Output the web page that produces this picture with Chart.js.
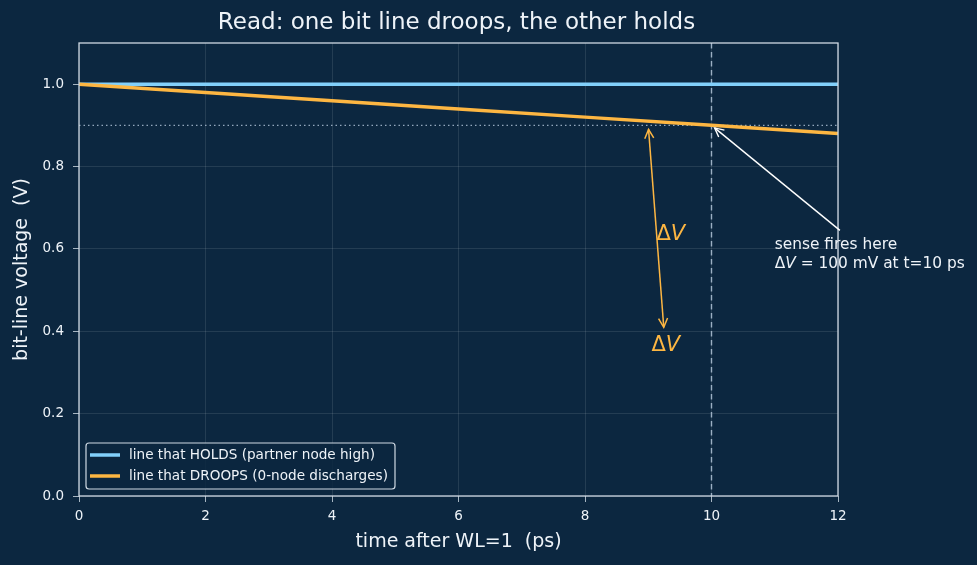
<!DOCTYPE html>
<html><head><meta charset="utf-8">
<script src="https://cdn.jsdelivr.net/npm/chart.js@4.4.0/dist/chart.umd.min.js"></script>
<style>html,body{margin:0;padding:0;background:#0c2740;}#wrap{width:977px;height:565px;position:relative}</style>
</head><body><div id="wrap"><canvas id="c" width="977" height="565"></canvas></div>
<script>
const chartTitle = 'Read: one bit line droops, the other holds';
const xTitle = 'time after WL=1  (ps)';
const yTitle = 'bit-line voltage  (V)';
const timePs = [0, 2, 4, 6, 8, 10, 12];
const holdsV = [1.00, 1.00, 1.00, 1.00, 1.00, 1.00, 1.00];
const droopsV = [1.00, 0.98, 0.96, 0.94, 0.92, 0.90, 0.88];
const seriesLabels = ['line that HOLDS (partner node high)', 'line that DROOPS (0-node discharges)'];
const xTicks = [0, 2, 4, 6, 8, 10, 12];
const yTicks = [0, 0.2, 0.4, 0.6, 0.8, 1.0];
const senseTime = 10;
const senseLevel = 0.9;
const dvArrowFrom = [9, 0.9];
const dvArrowTo = [9.25, 0.4];
const dvLabelA = [9.13, 0.635];
const dvLabelB = [9.05, 0.365];
const noteLines = ['sense fires here', '= 100 mV at t=10 ps'];
const noteAnchor = [11, 0.6];
const noteArrowFrom = [12.03, 0.645];
const noteArrowTo = [10, 0.9];

const BG = '#0c2740';
const TXT = '#eef3f8';
const BLUE = '#82d0fb';
const ORANGE = '#fdb642';
const FONT = "'DejaVu Sans', sans-serif";

function chevron(ctx, x, y, ang, len, half) {
  const c = Math.cos(ang), s = Math.sin(ang);
  ctx.beginPath();
  ctx.moveTo(x - len * c + half * s, y - len * s - half * c);
  ctx.lineTo(x, y);
  ctx.lineTo(x - len * c - half * s, y - len * s + half * c);
  ctx.stroke();
}
function drawDV(ctx, x, y, size, color) {
  ctx.fillStyle = color;
  ctx.font = size + 'px ' + FONT;
  ctx.fillText('Δ', x, y);
  const w = ctx.measureText('Δ').width;
  ctx.font = 'italic ' + size + 'px ' + FONT;
  ctx.fillText('V', x + w, y);
  return w + ctx.measureText('V').width;
}

const deco = {
  id: 'deco',
  beforeDraw(chart) {
    const ctx = chart.ctx;
    ctx.save();
    ctx.fillStyle = BG;
    ctx.fillRect(0, 0, chart.width, chart.height);
    ctx.restore();
  },
  beforeDatasetsDraw(chart) {
    const ctx = chart.ctx, a = chart.chartArea, x = chart.scales.x, y = chart.scales.y;
    ctx.save();
    ctx.strokeStyle = '#93a8bd';
    ctx.lineWidth = 1.2;
    ctx.setLineDash([1.5, 3]);
    const yy = y.getPixelForValue(senseLevel);
    ctx.beginPath(); ctx.moveTo(a.left, yy); ctx.lineTo(a.right, yy); ctx.stroke();
    ctx.strokeStyle = '#9cb0c4';
    ctx.lineWidth = 1.4;
    ctx.setLineDash([5.5, 3.5]);
    const xx = x.getPixelForValue(senseTime);
    ctx.beginPath(); ctx.moveTo(xx, a.top); ctx.lineTo(xx, a.bottom); ctx.stroke();
    ctx.restore();
  },
  afterDatasetsDraw(chart) {
    const ctx = chart.ctx, a = chart.chartArea, x = chart.scales.x, y = chart.scales.y;
    ctx.save();
    ctx.strokeStyle = '#cfd9e3';
    ctx.lineWidth = 1.3;
    ctx.strokeRect(a.left, a.top, a.right - a.left, a.bottom - a.top);
    ctx.fillStyle = TXT;
    ctx.font = '23px ' + FONT;
    ctx.textAlign = 'center';
    ctx.textBaseline = 'middle';
    ctx.fillText(chartTitle, (a.left + a.right) / 2 - 2, 23);
    // delta-V double arrow
    ctx.strokeStyle = ORANGE;
    ctx.lineWidth = 1.5;
    let x1 = x.getPixelForValue(dvArrowFrom[0]), y1 = y.getPixelForValue(dvArrowFrom[1]);
    let x2 = x.getPixelForValue(dvArrowTo[0]), y2 = y.getPixelForValue(dvArrowTo[1]);
    let ang = Math.atan2(y2 - y1, x2 - x1);
    const sh = 4;
    x1 += sh * Math.cos(ang); y1 += sh * Math.sin(ang);
    x2 -= sh * Math.cos(ang); y2 -= sh * Math.sin(ang);
    ctx.beginPath(); ctx.moveTo(x1, y1); ctx.lineTo(x2, y2); ctx.stroke();
    chevron(ctx, x2, y2, ang, 9, 4.5);
    chevron(ctx, x1, y1, ang + Math.PI, 9, 4.5);
    ctx.textAlign = 'left';
    ctx.textBaseline = 'middle';
    drawDV(ctx, x.getPixelForValue(dvLabelA[0]), y.getPixelForValue(dvLabelA[1]), 21, ORANGE);
    drawDV(ctx, x.getPixelForValue(dvLabelB[0]), y.getPixelForValue(dvLabelB[1]), 21, ORANGE);
    // note arrow
    ctx.strokeStyle = '#ffffff';
    ctx.lineWidth = 1.4;
    x1 = x.getPixelForValue(noteArrowFrom[0]); y1 = y.getPixelForValue(noteArrowFrom[1]);
    x2 = x.getPixelForValue(noteArrowTo[0]); y2 = y.getPixelForValue(noteArrowTo[1]);
    ang = Math.atan2(y2 - y1, x2 - x1);
    x2 -= 4 * Math.cos(ang); y2 -= 4 * Math.sin(ang);
    ctx.beginPath(); ctx.moveTo(x1, y1); ctx.lineTo(x2, y2); ctx.stroke();
    chevron(ctx, x2, y2, ang, 9, 4.5);
    // note text
    const nx = x.getPixelForValue(noteAnchor[0]), ny = y.getPixelForValue(noteAnchor[1]);
    ctx.fillStyle = TXT;
    ctx.font = '15.4px ' + FONT;
    ctx.textBaseline = 'middle';
    ctx.fillText(noteLines[0], nx, ny - 4);
    const w = drawDV(ctx, nx, ny + 15, 15.4, TXT);
    ctx.font = '15.4px ' + FONT;
    ctx.fillText(' ' + noteLines[1], nx + w, ny + 15);
    // legend
    const lx = a.left + 7, lw = 309, lh = 46, ly = a.bottom - 7 - lh;
    ctx.fillStyle = 'rgba(12,39,64,0.85)';
    ctx.strokeStyle = '#cfd9e3';
    ctx.lineWidth = 1.2;
    ctx.beginPath();
    ctx.roundRect(lx, ly, lw, lh, 3);
    ctx.fill(); ctx.stroke();
    const cols = [BLUE, ORANGE];
    ctx.font = '13.6px ' + FONT;
    ctx.textAlign = 'left';
    for (let i = 0; i < 2; i++) {
      const yy = ly + 12 + i * 21;
      ctx.strokeStyle = cols[i];
      ctx.lineWidth = 3.5;
      ctx.beginPath(); ctx.moveTo(lx + 4, yy); ctx.lineTo(lx + 34, yy); ctx.stroke();
      ctx.fillStyle = TXT;
      ctx.fillText(seriesLabels[i], lx + 43, yy);
    }
    ctx.restore();
  }
};

new Chart(document.getElementById('c'), {
  type: 'line',
  data: {
    datasets: [
      { label: seriesLabels[0], data: timePs.map((t, i) => ({ x: t, y: holdsV[i] })), borderColor: BLUE, borderWidth: 3.5, pointRadius: 0, order: 2, tension: 0 },
      { label: seriesLabels[1], data: timePs.map((t, i) => ({ x: t, y: droopsV[i] })), borderColor: ORANGE, borderWidth: 3.5, pointRadius: 0, order: 1, tension: 0 }
    ]
  },
  options: {
    responsive: false,
    animation: false,
    layout: { padding: { left: 0, right: 139, top: 43, bottom: 0 } },
    plugins: { legend: { display: false }, title: { display: false }, tooltip: { enabled: false } },
    scales: {
      x: {
        type: 'linear', min: 0, max: 12,
        afterFit(s) { s.height = 69; },
        afterBuildTicks(s) { s.ticks = xTicks.map(v => ({ value: v })); },
        ticks: { color: TXT, font: { family: FONT, size: 13.5 }, padding: 6, maxRotation: 0, callback: v => String(v) },
        grid: { color: 'rgba(255,255,255,0.13)', tickColor: '#cfd9e3', tickLength: 6, lineWidth: 0.8 },
        border: { display: false },
        title: { display: true, text: xTitle, color: TXT, font: { family: FONT, size: 19 }, padding: { top: 4, bottom: 12 } }
      },
      y: {
        type: 'linear', min: 0, max: 1.1,
        afterFit(s) { s.width = 79; },
        afterBuildTicks(s) { s.ticks = yTicks.map(v => ({ value: v })); },
        ticks: { color: TXT, font: { family: FONT, size: 13.5 }, padding: 9, callback: v => Number(v).toFixed(1) },
        grid: { color: 'rgba(255,255,255,0.13)', tickColor: '#cfd9e3', tickLength: 6, lineWidth: 0.8 },
        border: { display: false },
        title: { display: true, text: yTitle, color: TXT, font: { family: FONT, size: 19 }, padding: { top: 11, bottom: 4 } }
      }
    }
  },
  plugins: [deco]
});
</script></body></html>
